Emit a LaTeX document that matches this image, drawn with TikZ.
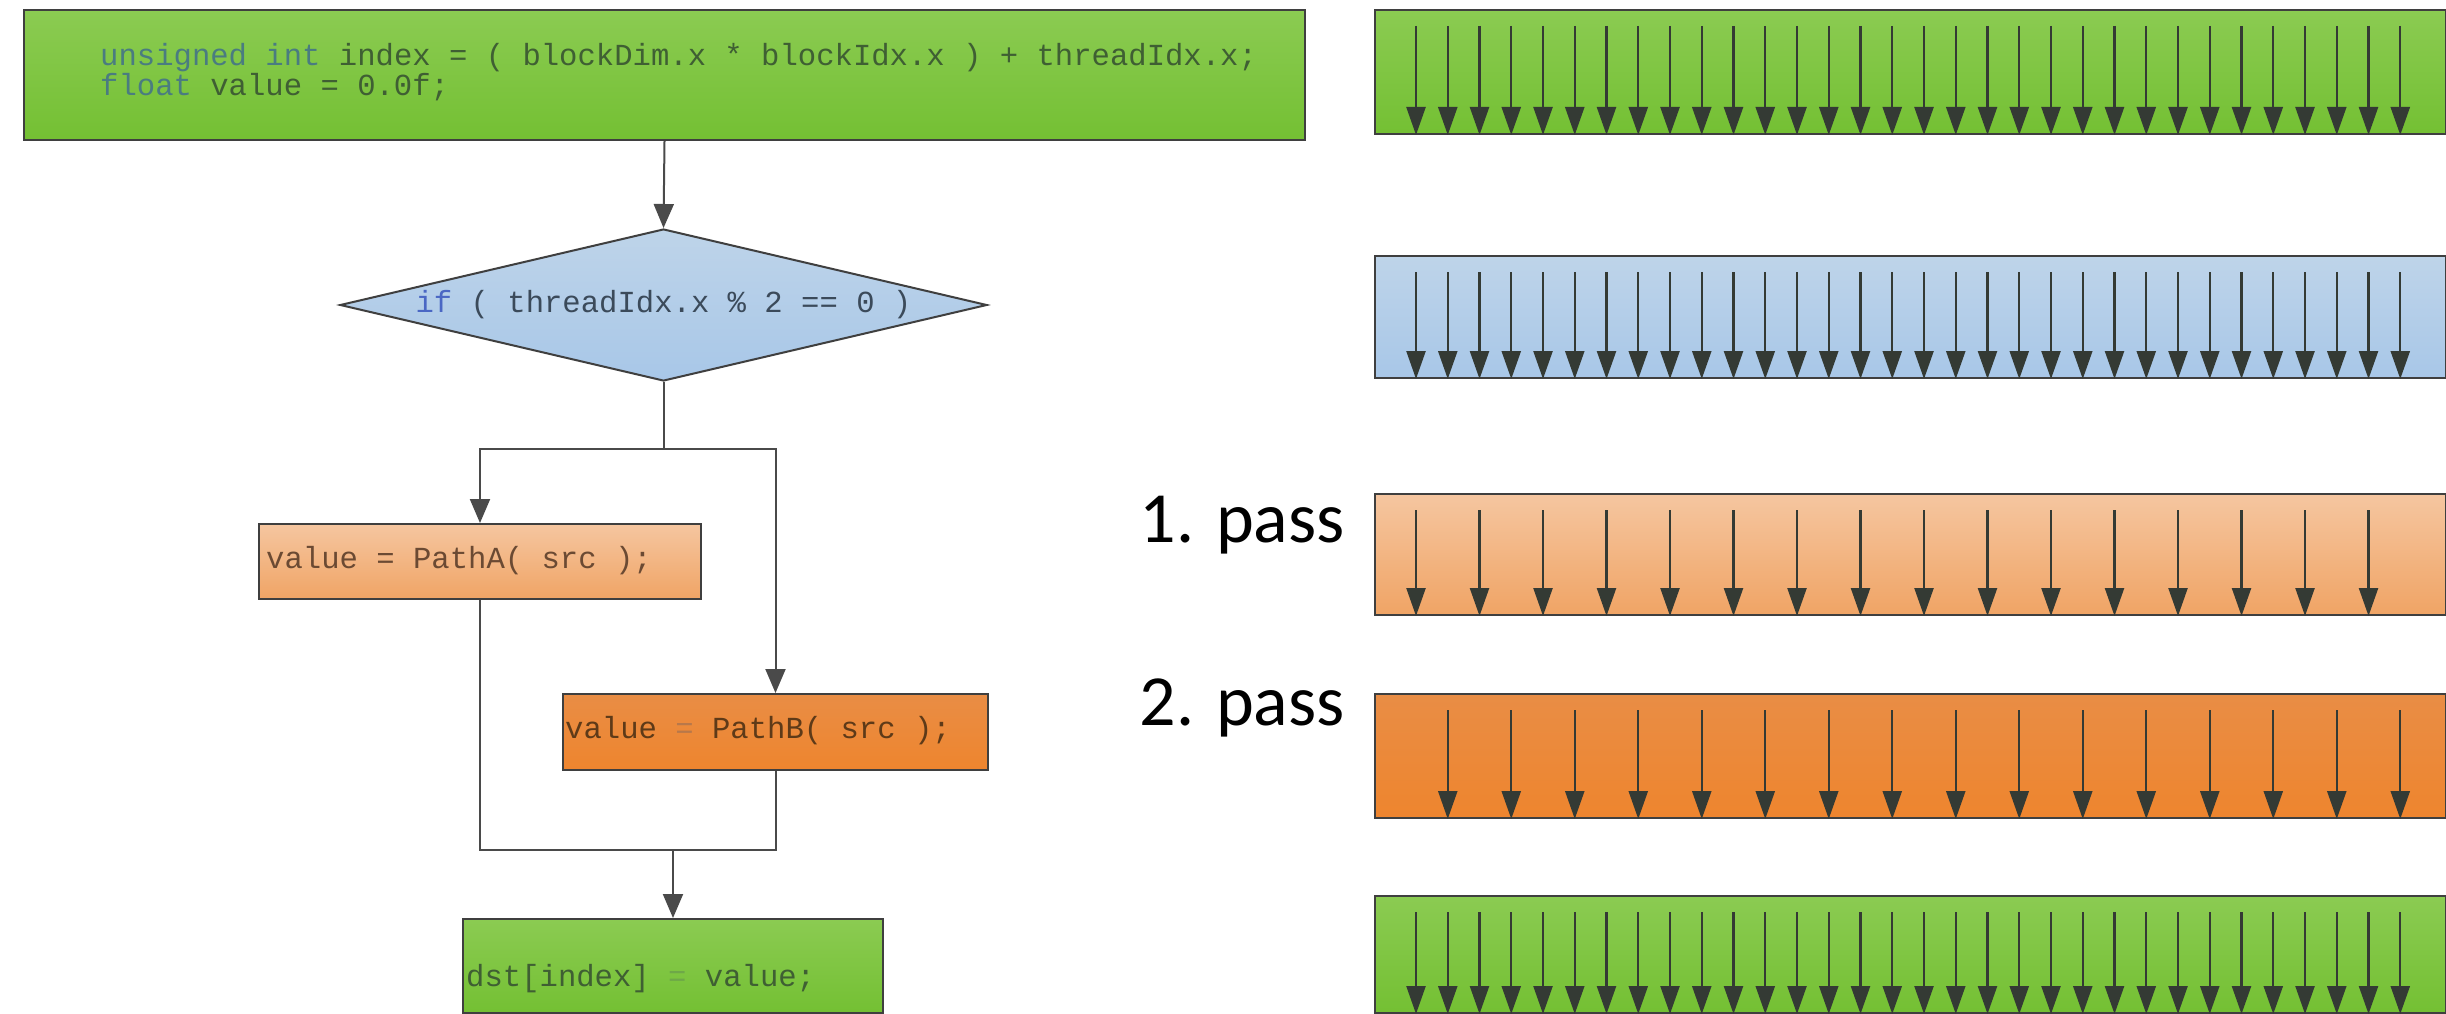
\documentclass[tikz,border=0pt]{standalone}
\usepackage{fontspec}
\usetikzlibrary{shapes.geometric,arrows.meta}
\newfontfamily\codefont{Liberation Mono}
\newfontfamily\passfont{Carlito}
\definecolor{boxline}{HTML}{3F3F3F}
\definecolor{flowline}{HTML}{4A4A4A}
\definecolor{threadline}{HTML}{343A34}
\definecolor{greenTop}{HTML}{8BCB52}
\definecolor{greenBot}{HTML}{74C033}
\definecolor{blueTop}{HTML}{BED4E9}
\definecolor{blueBot}{HTML}{A8C7E8}
\definecolor{lightTop}{HTML}{F5C6A0}
\definecolor{lightBot}{HTML}{F0A465}
\definecolor{darkTop}{HTML}{E98D45}
\definecolor{darkBot}{HTML}{EE852E}
\definecolor{codeGreen}{HTML}{3F5F33}
\definecolor{kwTeal}{HTML}{4A7C80}
\definecolor{kwBlue}{HTML}{4A67C4}
\definecolor{condGray}{HTML}{3B4A5A}
\definecolor{brownA}{HTML}{6B4A33}
\definecolor{brownB}{HTML}{5E3A18}
\definecolor{eqB}{HTML}{B8784A}
\definecolor{eqG}{HTML}{6EA848}
\begin{document}
\begin{tikzpicture}[x=1pt,y=-1pt,
  box/.style={draw=boxline,line width=2pt,inner sep=0pt,anchor=north west},
  greenfill/.style={top color=greenTop,bottom color=greenBot},
  bluefill/.style={top color=blueTop,bottom color=blueBot},
  lightfill/.style={top color=lightTop,bottom color=lightBot},
  darkfill/.style={top color=darkTop,bottom color=darkBot},
  mono/.style={font=\codefont\fontsize{30.6}{28}\selectfont},
  code/.style={mono,inner sep=0pt,anchor=west,align=left},
  flow/.style={draw=flowline,line width=2pt,-{Triangle[width=20pt,length=24pt]}},
  link/.style={draw=flowline,line width=2pt},
  thread/.style={draw=threadline,line width=2.4pt,-{Triangle[width=19pt,length=28pt]}},
  passlbl/.style={font=\passfont\fontsize{72}{80}\selectfont,inner sep=0pt,anchor=base east}]
\useasboundingbox (0,0) rectangle (2446,1014);
\fill[white] (0,0) rectangle (2446,1014);
% kernel flow chart
\node[box,greenfill,minimum width=1281pt,minimum height=130pt] (init) at (23,9) {};
\node[code,text=codeGreen] (initTxt) at (100,72) {{\color{kwTeal}unsigned int} index = ( blockDim.x * blockIdx.x ) + threadIdx.x;\\{\color{kwTeal}float} value = 0.0f;};
\node[diamond,draw=boxline,line width=2pt,bluefill,inner sep=0pt,shape aspect=4.26,minimum width=647pt,minimum height=152pt,mono,text=condGray] (cond) at (663.5,305) {{\color{kwBlue}if} ( threadIdx.x \% 2 == 0 )};
\node[box,lightfill,minimum width=442pt,minimum height=75pt] (pathA) at (258,523) {};
\node[code,text=brownA] (pathATxt) at (266,561) {value = PathA( src );};
\node[box,darkfill,minimum width=425pt,minimum height=76pt] (pathB) at (562,693) {};
\node[code,text=brownB] (pathBTxt) at (565,731) {value {\color{eqB}=} PathB( src );};
\node[box,greenfill,minimum width=420pt,minimum height=94pt] (dst) at (462,918) {};
\node[code,text=codeGreen] (dstTxt) at (466,979) {dst[index] {\color{eqG}=} value;};
\coordinate (fork) at (663.5,449); \coordinate (join) at (673,850);
\draw[flow] (init.south) -- (cond.north);
\draw[link] (cond.south) -- (fork); \draw[flow] (fork) -| (pathA.north); \draw[flow] (fork) -| (pathB.north);
\draw[link] (pathA.south) |- (join); \draw[link] (pathB.south) |- (join); \draw[flow] (join) -- (join |- dst.north);
% warp lanes
\node[box,greenfill,minimum width=1071pt,minimum height=124pt] (warpAll) at (1374,9) {};
\node[box,bluefill,minimum width=1071pt,minimum height=122pt] (warpCond) at (1374,255) {};
\node[box,lightfill,minimum width=1071pt,minimum height=121pt] (passA) at (1374,493) {};
\node[box,darkfill,minimum width=1071pt,minimum height=124pt] (passB) at (1374,693) {};
\node[box,greenfill,minimum width=1071pt,minimum height=117pt] (warpMerge) at (1374,895) {};
\node[passlbl] (lblA) at (1345,542) {1. pass};
\node[passlbl] (lblB) at (1345,725) {2. pass};
\foreach \i in {0,...,31} \draw[thread] ([xshift=42pt+31.75pt*\i,yshift=-17pt]warpAll.north west) -- ([xshift=42pt+31.75pt*\i]warpAll.south west);
\foreach \i in {0,...,31} \draw[thread] ([xshift=42pt+31.75pt*\i,yshift=-17pt]warpCond.north west) -- ([xshift=42pt+31.75pt*\i]warpCond.south west);
\foreach \i in {0,2,...,30} \draw[thread] ([xshift=42pt+31.75pt*\i,yshift=-17pt]passA.north west) -- ([xshift=42pt+31.75pt*\i]passA.south west);
\foreach \i in {1,3,...,31} \draw[thread] ([xshift=42pt+31.75pt*\i,yshift=-17pt]passB.north west) -- ([xshift=42pt+31.75pt*\i]passB.south west);
\foreach \i in {0,...,31} \draw[thread] ([xshift=42pt+31.75pt*\i,yshift=-17pt]warpMerge.north west) -- ([xshift=42pt+31.75pt*\i]warpMerge.south west);
\end{tikzpicture}
\end{document}
